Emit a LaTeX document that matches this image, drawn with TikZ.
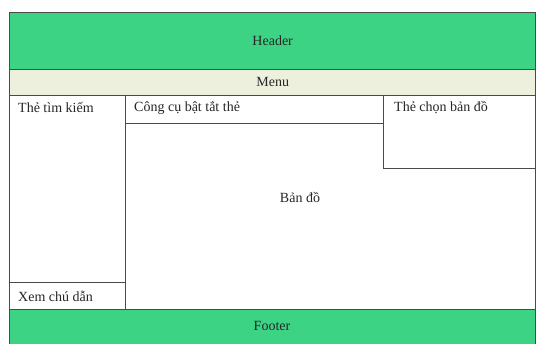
\documentclass[tikz,border=0pt]{standalone}
\usepackage{fontspec}
\setmainfont{Liberation Serif}
\usetikzlibrary{positioning}

\definecolor{headgreen}{HTML}{3DD385}
\definecolor{menubeige}{HTML}{EEF0DE}
\definecolor{framegray}{HTML}{4A4A4A}
\definecolor{textgray}{HTML}{262626}

\newcommand{\pagew}{526}
\newcommand{\leftw}{116}
\newcommand{\selw}{152}

\tikzset{
	panel/.style={rectangle, draw=framegray, line width=1.4pt,
		anchor=north west, inner sep=0pt},
	caption/.style={font=\fontsize{14}{16}\selectfont, text=textgray, inner sep=0pt},
}

\begin{document}
\begin{tikzpicture}[x=1pt,y=-1pt]
\useasboundingbox (0,0) rectangle (542,344);

% Header and menu
\node[panel, fill=headgreen, minimum width=\pagew pt, minimum height=57pt] (Header) at (9,12) {};
\node[panel, fill=menubeige, minimum width=\pagew pt, minimum height=26pt] (Menu) at (9,69) {};

% Map area
\node[panel, fill=white, minimum width=410pt, minimum height=214pt] (Map) at (125,95) {};
\node[panel, minimum width=258pt, minimum height=28pt] (Toolbar) at (125,95) {};
\node[panel, minimum width=\selw pt, minimum height=73pt] (Selector) at (383,95) {};

% Left column
\node[panel, fill=white, minimum width=\leftw pt, minimum height=214pt] (Search) at (9,95) {};
\node[panel, minimum width=\leftw pt, minimum height=27pt] (Legend) at (9,282) {};

% Footer
\node[panel, fill=headgreen, minimum width=\pagew pt, minimum height=45pt] (Footer) at (9,309) {};

% Labels
\node[caption] (Header-text) at (Header.center) {Header};
\node[caption] (Menu-text) at ([yshift=1pt]Menu.center) {Menu};
\node[caption, anchor=west] (Search-text) at ([xshift=9pt,yshift=-13pt]Search.north west) {Thẻ tìm kiếm};
\node[caption, anchor=west] (Toolbar-text) at ([xshift=9pt,yshift=-13pt]Toolbar.north west) {Công cụ bật tắt thẻ};
\node[caption, anchor=west] (Selector-text) at ([xshift=11pt,yshift=-13pt]Selector.north west) {Thẻ chọn bản đồ};
\node[caption] (Map-text) at (300,198) {Bản đồ};
\node[caption, anchor=west] (Legend-text) at ([xshift=9pt]Legend.west) {Xem chú dẫn};
\node[caption] (Footer-text) at (272,326) {Footer};

\end{tikzpicture}
\end{document}
